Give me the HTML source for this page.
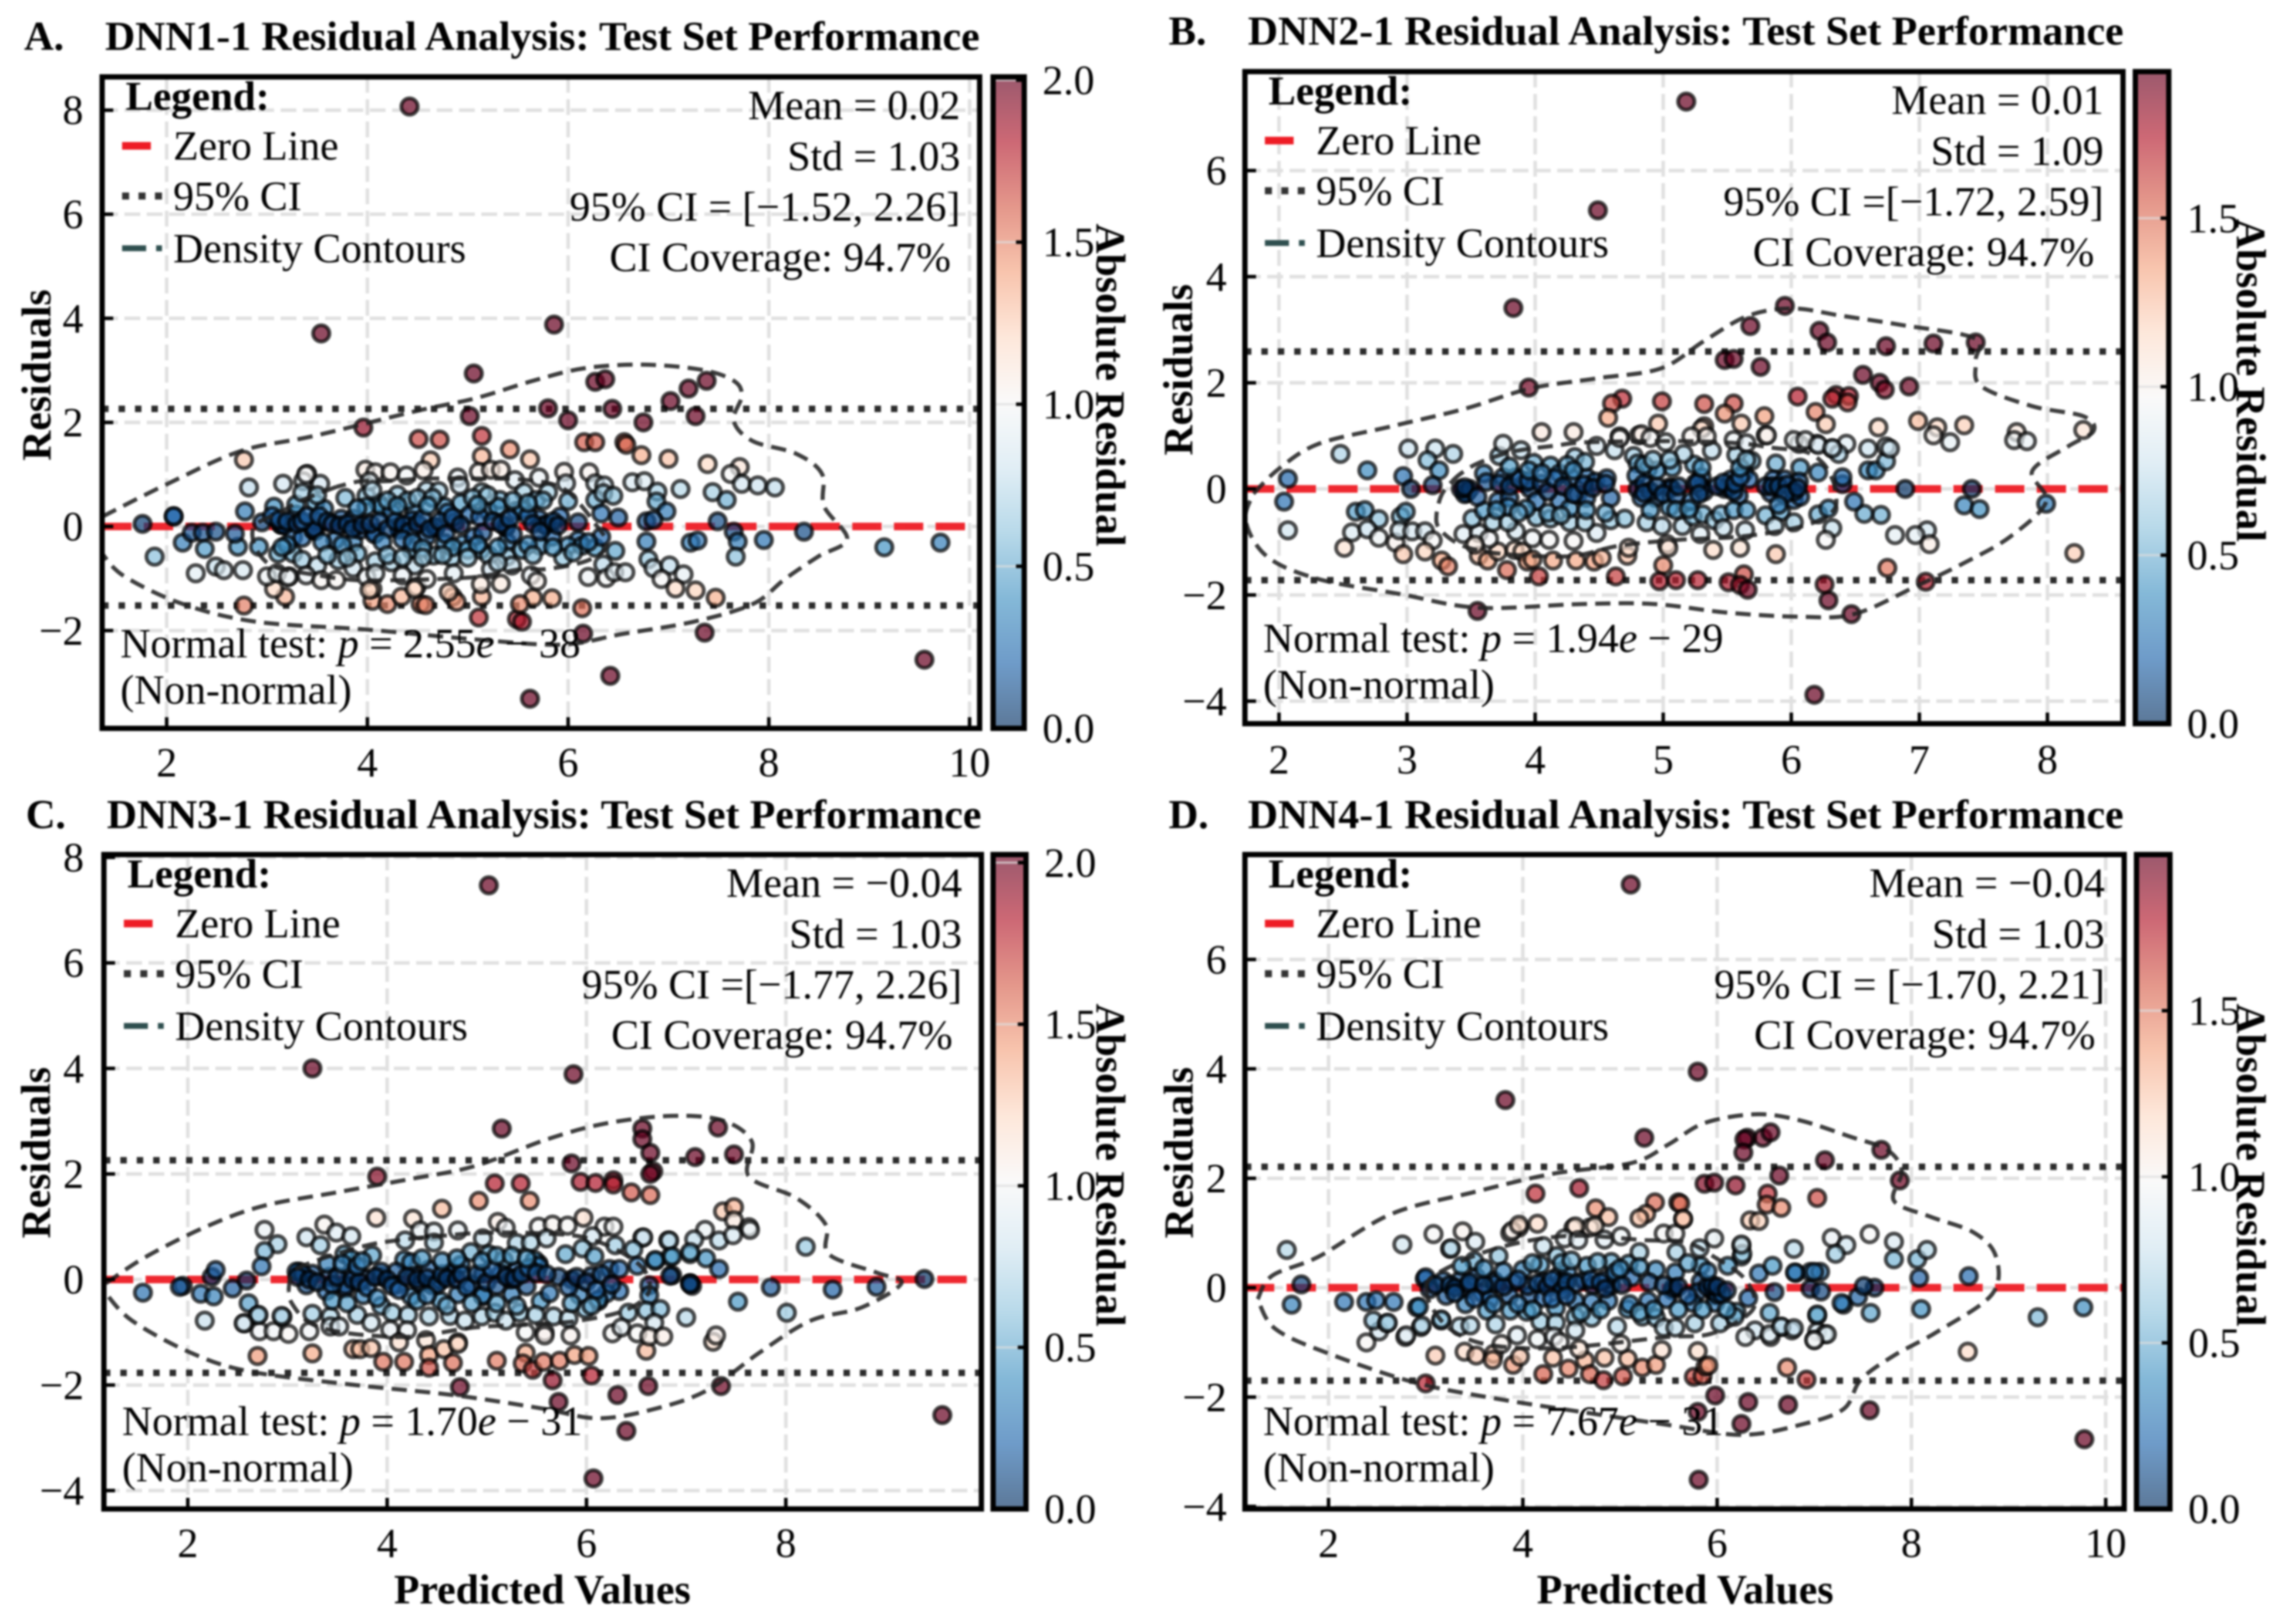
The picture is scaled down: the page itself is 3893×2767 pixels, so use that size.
<!DOCTYPE html>
<html lang="en">
<head>
<meta charset="utf-8">
<title>DNN Residual Analysis</title>
<style>
html,body{margin:0;padding:0;background:#fff;width:3893px;height:2767px;overflow:hidden}
svg{display:block;filter:blur(1.6px)}
text{font-family:"Liberation Serif",serif;fill:#000;font-size:71px}
.b{font-weight:700;font-size:70px}
.r{text-anchor:end}
.t{font-size:70px;font-weight:700}
.al{font-size:71px;font-weight:700}
.it{font-style:italic}
</style>
</head>
<body>
<svg id="chart" xmlns="http://www.w3.org/2000/svg" width="3893" height="2767" viewBox="0 0 3893 2767">
<rect width="3893" height="2767" fill="#fff"/>
<defs id="defs"></defs>
<g id="panel-marks"></g>

<g transform="translate(174,131)">
<text class="t" x="-133" y="-46">A.</text>
<text class="t" x="5" y="-46" textLength="1490" lengthAdjust="spacingAndGlyphs">DNN1-1 Residual Analysis: Test Set Performance</text>
<text class="b" x="40" y="56">Legend:</text>
<rect x="34" y="111" width="49" height="13" fill="#ee1c25"/>
<text x="121" y="141">Zero Line</text>
<line x1="34" x2="102" y1="203" y2="203" stroke="#333" stroke-width="12" stroke-dasharray="12 16"/>
<text x="121" y="227">95% CI</text>
<line x1="34" x2="102" y1="292" y2="292" stroke="#2f4f4f" stroke-width="10" stroke-dasharray="41 17"/>
<text x="121" y="316">Density Contours</text>
<text class="r" x="1462" y="72">Mean = 0.02</text>
<text class="r" x="1462" y="159">Std = 1.03</text>
<text class="r" x="1462" y="245">95% CI = [−1.52, 2.26]</text>
<text class="r" x="1446" y="331">CI Coverage: 94.7%</text>
<text x="31" y="989">Normal test: <tspan class="it">p</tspan> = 2.55<tspan class="it">e</tspan> − 38</text>
<text x="31" y="1068">(Non-normal)</text>
</g>
<text class="al" transform="translate(86,639) rotate(-90)" text-anchor="middle">Residuals</text>
<text class="al" transform="translate(1868,656) rotate(90)" text-anchor="middle">Absolute Residual</text>

<g transform="translate(2121,122)">
<text class="t" x="-130" y="-46">B.</text>
<text class="t" x="5" y="-46" textLength="1492" lengthAdjust="spacingAndGlyphs">DNN2-1 Residual Analysis: Test Set Performance</text>
<text class="b" x="40" y="56">Legend:</text>
<rect x="34" y="111" width="49" height="13" fill="#ee1c25"/>
<text x="121" y="141">Zero Line</text>
<line x1="34" x2="102" y1="203" y2="203" stroke="#333" stroke-width="12" stroke-dasharray="12 16"/>
<text x="121" y="227">95% CI</text>
<line x1="34" x2="102" y1="292" y2="292" stroke="#2f4f4f" stroke-width="10" stroke-dasharray="41 17"/>
<text x="121" y="316">Density Contours</text>
<text class="r" x="1463" y="72">Mean = 0.01</text>
<text class="r" x="1463" y="159">Std = 1.09</text>
<text class="r" x="1463" y="245">95% CI =[−1.72, 2.59]</text>
<text class="r" x="1447" y="331">CI Coverage: 94.7%</text>
<text x="31" y="989">Normal test: <tspan class="it">p</tspan> = 1.94<tspan class="it">e</tspan> − 29</text>
<text x="31" y="1068">(Non-normal)</text>
</g>
<text class="al" transform="translate(2031,630) rotate(-90)" text-anchor="middle">Residuals</text>
<text class="al" transform="translate(3811,648) rotate(90)" text-anchor="middle">Absolute Residual</text>

<g transform="translate(177,1456)">
<text class="t" x="-133" y="-45">C.</text>
<text class="t" x="5" y="-45" textLength="1490" lengthAdjust="spacingAndGlyphs">DNN3-1 Residual Analysis: Test Set Performance</text>
<text class="b" x="40" y="56">Legend:</text>
<rect x="34" y="111" width="49" height="13" fill="#ee1c25"/>
<text x="121" y="141">Zero Line</text>
<line x1="34" x2="102" y1="203" y2="203" stroke="#333" stroke-width="12" stroke-dasharray="12 16"/>
<text x="121" y="227">95% CI</text>
<line x1="34" x2="102" y1="292" y2="292" stroke="#2f4f4f" stroke-width="10" stroke-dasharray="41 17"/>
<text x="121" y="316">Density Contours</text>
<text class="r" x="1462" y="72">Mean = −0.04</text>
<text class="r" x="1462" y="159">Std = 1.03</text>
<text class="r" x="1462" y="245">95% CI =[−1.77, 2.26]</text>
<text class="r" x="1446" y="331">CI Coverage: 94.7%</text>
<text x="31" y="989">Normal test: <tspan class="it">p</tspan> = 1.70<tspan class="it">e</tspan> − 31</text>
<text x="31" y="1068">(Non-normal)</text>
</g>
<text class="al" transform="translate(85,1964) rotate(-90)" text-anchor="middle">Residuals</text>
<text class="al" transform="translate(1868,1985) rotate(90)" text-anchor="middle">Absolute Residual</text>
<text class="al" x="924" y="2732" text-anchor="middle">Predicted Values</text>

<g transform="translate(2121,1456)">
<text class="t" x="-130" y="-45">D.</text>
<text class="t" x="5" y="-45" textLength="1492" lengthAdjust="spacingAndGlyphs">DNN4-1 Residual Analysis: Test Set Performance</text>
<text class="b" x="40" y="56">Legend:</text>
<rect x="34" y="111" width="49" height="13" fill="#ee1c25"/>
<text x="121" y="141">Zero Line</text>
<line x1="34" x2="102" y1="203" y2="203" stroke="#333" stroke-width="12" stroke-dasharray="12 16"/>
<text x="121" y="227">95% CI</text>
<line x1="34" x2="102" y1="292" y2="292" stroke="#2f4f4f" stroke-width="10" stroke-dasharray="41 17"/>
<text x="121" y="316">Density Contours</text>
<text class="r" x="1465" y="72">Mean = −0.04</text>
<text class="r" x="1465" y="159">Std = 1.03</text>
<text class="r" x="1465" y="245">95% CI = [−1.70, 2.21]</text>
<text class="r" x="1449" y="331">CI Coverage: 94.7%</text>
<text x="31" y="989">Normal test: <tspan class="it">p</tspan> = 7.67<tspan class="it">e</tspan> − 31</text>
<text x="31" y="1068">(Non-normal)</text>
</g>
<text class="al" transform="translate(2032,1964) rotate(-90)" text-anchor="middle">Residuals</text>
<text class="al" transform="translate(3811,1985) rotate(90)" text-anchor="middle">Absolute Residual</text>
<text class="al" x="2871" y="2732" text-anchor="middle">Predicted Values</text>
</svg>
<script>
// ---------- Data: tick labels ----------
const xTicksA=[2,4,6,8,10];
const yTicksA=[-2,0,2,4,6,8];
const cbarTicksA=[0,0.5,1,1.5,2];
const xTicksB=[2,3,4,5,6,7,8];
const yTicksB=[-4,-2,0,2,4,6];
const cbarTicksB=[0,0.5,1,1.5];
const xTicksC=[2,4,6,8];
const yTicksC=[-4,-2,0,2,4,6,8];
const cbarTicksC=[0,0.5,1,1.5,2];
const xTicksD=[2,4,6,8,10];
const yTicksD=[-4,-2,0,2,4,6];
const cbarTicksD=[0,0.5,1,1.5];
// ---------- Data: 95% CI bounds ----------
const ciA=[-1.52,2.26];
const ciB=[-1.72,2.59];
const ciC=[-1.77,2.26];
const ciD=[-1.70,2.21];
// ---------- Data: residual points [predicted, residual] ----------
const residualsA=[[4.42,8.07],[3.54,3.71],[5.86,3.88],[5.06,2.94],[6.27,2.78],[6.37,2.83],[7.2,2.65],[7.38,2.8],[7.02,2.41],[5.8,2.27],[6.44,2.26],[5.02,2.12],[6,2.04],[6.75,2],[7.27,2.12],[3.96,1.9],[4.51,1.68],[4.72,1.67],[5.14,1.74],[6.16,1.62],[6.27,1.62],[6.56,1.62],[6.58,1.57],[5.42,1.48],[4.63,1.27],[5.14,1.35],[5.62,1.29],[6.73,1.37],[7,1.3],[7.39,1.2],[2.77,1.28],[7.71,1.14],[7.62,1.01],[7.73,.82],[7.89,.79],[8.06,.75],[7.44,.66],[7.58,.51],[7.12,.72],[6.64,.85],[6.76,.87],[6.89,.67],[6.88,.48],[6.98,.29],[6.78,.1],[6.85,.13],[7.49,.1],[7.65,-.1],[7.69,-.29],[7.67,-.58],[7.95,-.26],[8.35,-.1],[9.15,-.4],[9.71,-.31],[7.22,-.31],[7.29,-.27],[6.78,-.29],[6.8,-.63],[6.85,-.8],[7.01,-.75],[7.15,-.92],[6.93,-1.01],[7.07,-1.19],[7.27,-1.23],[7.47,-1.37],[7.36,-2.04],[9.55,-2.56],[6.42,-2.87],[5.62,-3.31],[6.15,-2.06],[6.14,-1.57],[5.49,-1.78],[5.54,-1.83],[5.11,-1.75],[5.84,-1.38],[5.65,-1.37],[5.52,-1.49],[5.14,-1.35],[5.13,-1.11],[4.85,-1.35],[4.89,-1.45],[2.77,-1.52],[3.18,-1.35],[3.07,-1.2],[4.05,-1.43],[4.2,-1.49],[4.34,-1.35],[4.53,-1.49],[4.58,-1.51],[4.05,-1.2],[4.49,-1.16],[1.76,.05],[2.07,.19],[2.07,.2],[1.88,-.58],[2.16,-.31],[2.25,-.12],[2.36,-.12],[2.49,-.1],[2.38,-.43],[2.29,-.9],[2.49,-.77],[2.57,-.84],[2.76,-.84],[2.71,-.39],[2.68,-.14],[2.78,.29],[2.82,.75],[3.16,.82],[3.4,1.01],[3.36,.87],[3.53,.82],[2.92,-.39],[3,-.96],[3.22,-.96],[3.39,1],[3.98,1.09],[4.08,1.04],[4.23,1.04],[4.39,.98],[4.56,1.08],[4.9,.94],[5.11,1.05],[5.23,1.09],[5.33,1.09],[5.47,.89],[5.71,.94],[5.96,1.05],[5.98,.83],[6.21,1.04],[6.27,.83],[6.36,.79],[3.78,.55],[3.99,.59],[4.02,.87],[4.3,.61],[4.11,.45],[4.59,.7],[4.71,.68],[4.93,.45],[4.92,.79],[5.14,.66],[5.32,.51],[5.56,.66],[5.68,.51],[5.8,.66],[6,.49],[6.27,.51],[6.35,.64],[6.45,.59],[6.33,.25],[6.5,.17],[6.1,.08],[2.95,.08],[3.07,.38],[3.14,.04],[3.29,.23],[3.29,.42],[3.48,.45],[3.57,.34],[3.48,.12],[3.26,-.2],[3.35,-.22],[3.48,-.09],[3.74,.15],[3.86,.15],[3.68,-.26],[3.86,-.3],[3.93,-.07],[4.08,-.13],[4.14,.38],[3.99,.38],[4.32,-.07],[4.47,.3],[4.44,.12],[4.24,.27],[4.68,-.02],[4.59,-.2],[4.77,-.32],[4.77,.38],[4.8,.27],[4.87,.08],[4.95,-.33],[5.02,.23],[5.2,.3],[5.3,.38],[5.38,-.02],[5.39,-.3],[5.48,.3],[5.54,.32],[5.71,.15],[5.78,.02],[5.92,.19],[5.84,-.2],[5.72,-.37],[6.1,-.26],[6,-.37],[6.14,-.37],[6.27,-.41],[6.33,-.2],[6.47,-.47],[6.35,-.73],[5.95,-.6],[6.2,-.97],[6.38,-.99],[6.46,-.88],[6.57,-.88],[3.11,-.52],[3.26,-.52],[3.35,-.64],[3.5,-.75],[3.71,-.65],[3.9,-.52],[4.44,-.45],[4.24,-.69],[4.08,-.67],[4.47,-.75],[4.66,-.56],[4.84,-.6],[5.13,-.45],[5.21,-.56],[5.39,-.58],[5.54,-.45],[5.23,-.82],[5.44,-.75],[3.86,-.8],[3.1,-.9],[3.21,-.97],[3.39,-.94],[3.54,-1.03],[3.69,-1.03],[3.99,-.97],[4.08,-.9],[4.35,-.94],[4.59,-1.01],[4.86,-.9],[5.33,-1.1],[5.63,-.94],[5.69,-1.05],[4.02,-1.22],[4.47,-1.2],[4.81,-1.26],[3.14,.03],[3.17,.02],[3.46,-.07],[3.47,-.04],[4.07,-.15],[4.32,-.04],[4.68,-.01],[5.38,0],[5.77,.03],[3.05,.2],[3.12,.13],[3.2,.1],[3.3,.05],[3.35,.1],[3.4,.2],[3.52,.2],[3.6,.1],[3.65,.05],[3.72,.02],[3.8,.05],[3.85,-.05],[3.95,.03],[4.03,.05],[4.12,.1],[4.2,-.05],[4.28,.1],[4.36,.03],[4.42,-.1],[4.5,.05],[4.55,.15],[4.62,-.05],[4.72,.1],[4.78,-.15],[4.85,.18],[4.93,.03],[5.06,-.2],[5.12,.18],[5.15,-.12],[5.25,.1],[5.33,.05],[5.42,.15],[5.45,-.15],[5.6,.2],[5.65,.05],[5.72,-.1],[5.85,.1],[5.9,.02],[3.2,-.35],[3.15,-.4],[3.55,-.3],[3.75,-.35],[4.15,-.3],[4.35,-.25],[4.45,-.3],[4.55,-.42],[4.85,-.4],[5,-.45],[5.1,-.35],[5.3,-.4],[5.6,-.35],[5.85,-.4],[6.05,-.5],[6.2,-.3],[3.35,.65],[3.5,.6],[4.05,.7],[4.2,.5],[4.4,.5],[4.5,.55],[4.65,.55],[5.05,.55],[5.2,.6],[5.45,.5],[5.75,.5],[3.9,.35],[4.3,.4],[4.6,.4],[5.1,.42],[5.6,.45],[4.2,-.55],[4.35,-.6],[4.55,-.6],[4.75,-.55],[5,-.6],[5.3,-.7],[5.65,-.55],[3.6,-.55],[3.8,-.6]];
const residualsB=[[5.18,7.3],[4.49,5.25],[3.83,3.41],[5.95,3.45],[5.68,3.07],[6.22,2.98],[6.28,2.76],[6.74,2.69],[7.11,2.74],[7.44,2.76],[5.48,2.43],[5.55,2.45],[5.76,2.3],[6.56,2.15],[6.69,2],[6.73,1.87],[6.92,1.93],[3.95,1.91],[6.05,1.74],[6.35,1.77],[6.32,1.7],[6.45,1.75],[6.44,1.63],[4.68,1.7],[4.6,1.61],[4.99,1.65],[5.32,1.6],[5.55,1.61],[4.57,1.34],[5.48,1.42],[5.79,1.37],[6.19,1.45],[4.96,1.23],[5.32,1.18],[5.61,1.23],[6.27,1.22],[6.68,1.16],[6.99,1.28],[7.14,1.16],[7.35,1.2],[7.76,1.07],[7.11,1.01],[7.24,.88],[7.74,.92],[7.84,.9],[8.28,1.11],[4.05,1.07],[4.3,1.07],[5.3,1.13],[5.8,1.01],[4.66,.99],[4.81,1.01],[2.48,.66],[3.01,.76],[2.69,.35],[2.07,.19],[2.04,-.24],[2.07,-.78],[3.22,.76],[3.16,.54],[3.36,.66],[3.25,.35],[2.97,.24],[3.03,0],[3.2,.07],[2.6,-.43],[2.67,-.4],[2.78,-.57],[2.95,-.52],[2.99,-.43],[2.57,-.82],[2.69,-.76],[2.78,-.92],[2.51,-1.11],[2.91,-1.01],[2.97,-1.23],[2.94,-.78],[3.04,-.8],[3.14,-.8],[3.2,-.97],[3.14,-1.18],[3.27,-1.35],[3.32,-1.46],[3.55,-2.3],[6.18,-3.88],[6.47,-2.36],[6.29,-2.1],[6.26,-1.8],[7.05,-1.75],[6.75,-1.49],[8.21,-1.21],[5.88,-1.23],[7.99,-.28],[7.35,-.31],[7.47,-.38],[7.41,0],[6.89,0],[7.06,-.78],[6.97,-.87],[6.81,-.87],[7.08,-1.04],[6.7,-.49],[6.57,-.47],[6.49,-.24],[6.4,.09],[6.6,.35],[6.66,.35],[6.74,.52],[6.74,.8],[6.77,.76],[6.6,.76],[6.43,.85],[6.32,.76],[6.37,.66],[6.2,.85],[6.06,.85],[4.03,-1.65],[3.78,-1.53],[4.63,-1.65],[5,-1.44],[4.97,-1.74],[5.1,-1.72],[5.27,-1.72],[5.51,-1.76],[5.63,-1.61],[5.6,-1.81],[5.66,-1.9],[4.14,-1.35],[4.32,-1.35],[4.46,-1.37],[4.52,-1.3],[4.72,-1.26],[4.73,-1.11],[5.39,-1.15],[5.6,-1.11],[5.03,-1.04],[5.04,-1.11],[3.56,-1.26],[3.63,-1.35],[3.71,-1.18],[3.84,-1.15],[3.9,-1.18],[3.94,-1.37],[3.98,-1.33],[3.44,-.85],[3.56,-.83],[3.64,-.94],[3.53,-1.05],[3.98,-.93],[4.11,-.96],[4.3,-.98],[3.85,-.8],[4.48,-.83],[3.51,-.56],[3.6,-.41],[3.67,-.63],[3.79,-.63],[4.01,-.54],[4.12,-.56],[4.27,-.63],[4.39,-.63],[4.59,-.59],[4.7,-.56],[4.87,-.63],[4.99,-.7],[5.15,-.7],[5.23,-.52],[5.31,-.48],[5.4,-.59],[5.45,-.48],[5.8,-.5],[5.92,-.43],[6.02,-.63],[6.21,-.48],[6.29,-.37],[6.32,-.74],[6.27,-.96],[5.29,-.85],[5.47,-.74],[5.64,-.78],[5.87,-.7],[3.46,-.08],[3.47,-.06],[3.45,-.1],[3.42,0],[3.49,0],[3.45,.03],[3.6,.29],[3.62,.13],[3.75,.22],[3.85,.22],[3.92,.11],[3.96,0],[3.71,-.23],[3.8,-.17],[3.79,-.34],[4.01,-.23],[3.93,-.37],[4.19,-.23],[4.27,-.37],[4.33,-.11],[4.4,-.17],[4.28,.22],[4.4,.22],[4.47,.14],[4.56,.2],[4.59,-.17],[3.99,.49],[4.12,.44],[4.19,.29],[4.31,.6],[4.39,.51],[3.72,.62],[3.89,.73],[3.75,.85],[4.48,.81],[4.62,.73],[4.77,.62],[4.8,.48],[4.88,.37],[5.07,.4],[5.24,.46],[5.16,.66],[5.38,.72],[5.57,.64],[5.69,.53],[5.88,.48],[6.07,.4],[6.21,.31],[6.4,.22],[4.79,.25],[4.8,0],[4.83,-.17],[4.94,-.17],[5.05,.03],[5.06,.01],[5.05,-.35],[5.22,-.23],[5.3,.22],[5.3,.03],[5.48,0],[5.53,.18],[5.63,.31],[5.59,-.13],[5.51,.03],[5.67,.18],[5.86,.18],[5.95,.18],[6.06,.14],[5.84,-.08],[5.93,-.08],[6.02,-.21],[6.07,-.15],[4.66,.96],[4.83,1.03],[4.9,.96],[5.02,.88],[5.22,.99],[5.34,.99],[5.55,.92],[5.65,.86],[5.81,1.01],[6.02,.92],[6.11,.92],[6.21,.83],[6.32,.77],[3.72,.1],[3.8,.05],[3.88,.18],[3.95,.15],[4.05,.1],[4.1,-.05],[4.15,.2],[4.22,.05],[4.3,-.1],[4.38,.08],[4.45,.02],[4.55,.1],[4.85,.1],[4.9,-.05],[4.85,-.08],[4.95,.05],[5,-.1],[5.1,-.12],[5.12,.05],[5.25,.1],[5.32,-.05],[5.27,.12],[5.28,-.1],[5.42,.05],[5.47,.12],[5.55,-.05],[5.56,.1],[5.6,.22],[5.8,.05],[5.85,.05],[5.9,.05],[5.97,.08],[6.02,-.05],[5.95,-.1],[6.05,.02],[3.55,-.15],[3.7,-.4],[3.87,-.45],[4.1,-.45],[4.2,-.5],[4.4,-.4],[4.55,-.45],[4.9,-.4],[5.1,-.4],[5.2,-.38],[5.55,-.4],[5.65,-.4],[5.9,-.3],[4.95,.35],[4.85,.45],[4.92,.55],[5.6,.4],[5.65,.55],[5.05,.55],[5.3,.4],[4.25,.45],[4.3,.35],[3.95,.35],[4.05,.3],[3.8,.42]];
const residualsC=[[5.02,7.47],[3.25,4],[5.87,3.89],[5.15,2.86],[6.56,2.86],[6.56,2.66],[6.64,2.4],[6.67,2.05],[6.64,2],[7.32,2.88],[7.48,2.37],[7.09,2.32],[5.85,2.2],[3.9,1.95],[5.08,1.82],[5.34,1.82],[5.94,1.85],[6.09,1.83],[6.27,1.88],[6.27,1.8],[6.45,1.65],[6.64,1.6],[4.92,1.49],[5.43,1.49],[4.55,1.34],[3.89,1.17],[7.37,1.29],[7.48,1.37],[7.48,1.12],[7.63,.99],[7.64,.94],[7.33,.74],[7.47,.84],[7.19,.94],[7.08,.76],[6.82,.74],[6.56,.79],[8.2,.62],[7.04,.48],[7.2,.4],[7.33,.2],[6.84,.43],[6.69,.35],[6.86,.08],[7.04,-.07],[7.06,-.12],[7.52,-.42],[8.01,-.63],[7.85,-.15],[8.47,-.19],[8.91,-.14],[9.39,.01],[1.55,-.25],[9.57,-2.57],[6.07,-3.77],[6.4,-2.87],[6.31,-2.19],[6.62,-2.02],[7.35,-2.02],[4.73,-2.04],[5.72,-2.32],[5.66,-1.91],[6.05,-1.82],[2.7,-1.45],[3.25,-1.4],[6.6,-1.35],[7.27,-1.18],[7.3,-1.06],[2.17,-.78],[1.95,-.12],[1.92,-.14],[2.13,-.27],[2.26,-.32],[2.24,.05],[2.28,.18],[2.45,-.17],[2.59,-.02],[2.61,-.45],[2.57,-.83],[2.7,-.68],[2.72,-.98],[2.86,-.98],[2.95,-.71],[3.01,-1.03],[2.77,.94],[2.9,.67],[2.77,.54],[2.74,.25],[3.19,.8],[3.37,1.04],[3.49,.89],[3.64,.82],[3.33,.65],[3.57,.48],[3.64,.39],[3.85,.46],[4.18,.74],[4.26,1.15],[4.33,.93],[4.47,.91],[4.47,.7],[4.71,.93],[5.11,1.09],[5.19,.98],[5.52,1],[5.66,1.04],[5.81,1.02],[5.97,1.17],[6.18,1],[6.27,1],[4.96,.78],[5.3,.69],[5.44,.7],[5.6,.78],[6.06,.82],[6.29,.65],[6.57,.8],[6.83,.74],[3.12,.15],[3.25,.11],[3.19,-.11],[3.39,-.22],[3.58,-.17],[3.63,.11],[3.76,-.3],[3.94,.06],[3.94,-.5],[4.17,.37],[4.24,.33],[4.09,.15],[4.24,-.32],[4.33,-.07],[4.45,-.11],[4.42,.19],[4.54,-.41],[4.65,.11],[4.84,-.09],[4.84,.52],[5.02,.48],[5.17,.37],[4.96,.11],[5.14,.11],[5.3,.17],[5.52,.3],[5.48,.37],[4.96,-.32],[4.71,-.28],[5.25,-.28],[5.4,-.13],[5.54,-.41],[5.63,-.26],[5.79,.48],[5.96,.59],[6.08,.44],[6.23,.2],[6.33,.2],[6.05,.07],[5.85,0],[5.93,-.3],[6.12,-.41],[5.99,-.56],[6.33,-.22],[6.2,-.26],[6.47,.57],[6.51,.26],[6.63,-.11],[6.63,-.3],[6.69,.37],[6.86,.44],[7.04,.52],[6.84,.07],[7.04,-.07],[2.71,-.67],[2.94,-.69],[3.25,-.65],[3.43,-.7],[3.7,-.67],[3.84,-.82],[4.05,-.63],[4.21,-.67],[4.42,-.7],[4.63,-.69],[4.78,-.78],[4.95,-.7],[5.08,-.63],[5.19,-.78],[5.33,-.63],[5.49,-.67],[5.67,-.7],[5.82,-.74],[6.42,-.63],[6.6,-.59],[6.74,-.56],[7,-.72],[6.68,-.82],[2.56,-.83],[3.22,-.98],[3.43,-.89],[3.52,-.89],[4.03,-.95],[4.2,-.96],[5.39,-1],[5.58,-1],[5.58,-1.06],[5.84,-1.06],[6.26,-1.02],[6.35,-.91],[6.51,-1.02],[6.63,-1.08],[6.77,-1.08],[4.12,-1.19],[4.39,-1.15],[4.71,-1.19],[3.66,-1.32],[3.73,-1.32],[3.84,-1.3],[3.96,-1.56],[4.17,-1.56],[4.42,-1.43],[4.57,-1.32],[4.42,-1.67],[4.66,-1.58],[4.71,-1.22],[5.1,-1.54],[5.39,-1.39],[5.36,-1.59],[5.46,-1.71],[5.57,-1.56],[5.73,-1.54],[5.88,-1.43],[6.02,-1.45],[3.09,.15],[3.15,.11],[3.58,-.11],[3.94,.15],[4.65,.15],[4.96,-.3],[5.52,.26],[6.12,-.38],[7.04,-.09],[3.42,.05],[3.78,.02],[4.27,.07],[4.53,-.02],[4.74,.28],[5.24,0],[5.72,.05],[5.82,-.15],[3.4,.3],[4.1,-.1],[3.1,.05],[3.22,0],[3.3,-.05],[3.45,-.1],[3.5,.05],[3.65,0],[3.72,-.05],[3.8,-.15],[3.88,.05],[4,0],[4.05,-.12],[4.12,-.2],[4.2,.05],[4.3,0],[4.4,.03],[4.5,-.1],[4.55,.1],[4.6,.02],[4.7,0],[4.75,.1],[4.8,-.15],[4.9,.1],[5,-.05],[5.05,.2],[5.1,-.12],[5.2,.05],[5.28,.02],[5.35,.1],[5.42,.22],[5.5,.12],[5.6,.1],[5.9,.05],[6,-.05],[6.1,-.2],[6.15,.1],[6.25,-.1],[3.45,-.4],[3.6,-.45],[3.9,-.35],[4.3,-.4],[4.4,-.3],[4.6,-.5],[4.85,-.45],[5.1,-.45],[5.3,-.5],[5.85,-.45],[6.05,-.5],[3.55,.3],[3.7,.25],[4.35,.4],[4.55,.35],[4.7,.4],[4.95,.35],[5.1,.45],[5.25,.45],[5.4,.4],[3.75,.35]];
const residualsD=[[5.11,7.37],[5.8,3.95],[3.82,3.43],[5.25,2.74],[6.31,2.74],[6.28,2.71],[6.47,2.74],[6.55,2.84],[6.27,2.47],[7.69,2.52],[7.11,2.33],[6.64,2.05],[7.88,1.96],[5.87,1.9],[5.97,1.92],[6.19,1.87],[4.13,1.72],[4.58,1.82],[7.03,1.64],[6.52,1.72],[6.51,1.52],[6.66,1.46],[5.6,1.56],[5.62,1.54],[5.36,1.56],[4.75,1.45],[4.88,1.29],[5.27,1.35],[5.2,1.27],[5.65,1.25],[6.34,1.23],[6.43,1.22],[4.15,1.17],[3.96,1.1],[3.87,1],[4.52,1.09],[4.69,1.1],[3.08,.98],[3.38,1.03],[3.51,.84],[3.25,.71],[2.76,.79],[1.57,.69],[1.72,.06],[1.62,-.31],[2.16,-.26],[2.39,-.26],[2.49,-.23],[2.67,-.26],[2.91,-.36],[2.99,.16],[2.39,-1],[2.52,-.8],[2.46,-.6],[2.6,-.65],[2.79,-.9],[2.95,-.72],[3.16,-.6],[3.1,-1.24],[3,-1.75],[7.18,.91],[7.33,.78],[7.22,.62],[7.57,.98],[7.82,.84],[7.82,.52],[8.06,.52],[8.16,.69],[6.79,.71],[6.25,.76],[6.25,.57],[8.59,.21],[8.08,.18],[8.1,-.39],[9.3,-.54],[9.77,-.36],[9.78,-2.77],[8.58,-1.17],[7.57,-2.24],[5.81,-3.51],[6.25,-2.49],[5.8,-2.27],[6.32,-2.09],[6.73,-2.14],[5.98,-1.97],[6.92,-1.68],[6.72,-1.46],[5.76,-1.63],[5.85,-1.61],[5.88,-1.44],[5.8,-1.16],[7.58,-.46],[7.3,-.31],[7.45,-.17],[7.62,0],[7.51,.03],[7.03,-.51],[7.03,-.8],[7.11,-.85],[7,-.95],[6.77,-.78],[6.66,-.72],[6.55,-.9],[6.81,.27],[6.96,.29],[7.06,.29],[6.96,-.02],[7.07,-.07],[3.26,.72],[3,.19],[3.04,-.03],[3.18,.13],[3.35,.13],[3.41,-.03],[3.52,.19],[3.7,.13],[3.9,.1],[3.5,.49],[3.75,.58],[3.37,.4],[3.58,-.1],[3.66,-.21],[3.21,-.15],[3.41,-.3],[3.86,-.15],[4.07,-.14],[4.21,-.19],[4,.33],[4.18,.42],[4.37,.22],[4.35,.58],[4.21,.11],[4.63,.13],[4.46,.29],[4.66,.4],[4.72,.04],[4.91,.04],[4.91,.47],[4.77,.47],[5.09,.44],[5.12,.19],[5.37,.33],[5.57,.28],[5.54,-.05],[5.83,.4],[5.83,.11],[5.8,-.08],[5.98,-.14],[5.75,-.28],[5.98,-.28],[6.32,-.19],[6.43,.26],[6.57,.4],[6.59,-.08],[6.8,.28],[5.29,-.24],[5.48,-.21],[4.88,-.24],[4.71,-.26],[4.54,-.24],[4.34,-.37],[3.87,-.42],[3.63,-.42],[4.04,-.44],[7,.29],[7.28,-.28],[6.2,-.44],[6.54,-.46],[6.11,.4],[6.26,.62],[5.08,-.39],[4.54,-.53],[4.71,-.55],[4.54,-.78],[4.18,-.62],[4.34,-.64],[3.72,-.67],[3.35,-.71],[3.46,-.69],[3.16,-.58],[2.93,-.35],[2.96,-.69],[2.8,-.87],[2.61,-.64],[5.77,-.65],[5.23,-.53],[5.37,-.55],[5.45,-.73],[5.57,-.73],[4.97,-.71],[6.03,-.65],[6.18,-.53],[6.39,-.78],[6.54,-.85],[6.66,-.71],[6.79,-.74],[7.03,-.49],[6.29,-.9],[7.13,-.85],[7,-.96],[3.94,-.87],[4.15,-.94],[4.32,-.89],[3.89,1.04],[3.96,1.15],[4.54,1.12],[4.74,1.13],[4.43,.9],[4.57,.87],[4.84,.88],[5.01,.94],[4.21,.76],[5.45,.99],[5.57,.99],[5.58,.65],[5.97,.9],[5.82,.72],[6.25,.79],[5.2,.65],[5.65,1.26],[3.4,-1.17],[3.52,-1.24],[3.7,-1.21],[3.69,-1.32],[3.9,-1.41],[3.97,-1.26],[4.31,-1.28],[4.21,-1.58],[4.47,-1.48],[4.64,-1.33],[4.69,-1.58],[4.83,-1.69],[4.84,-1.28],[5.03,-1.62],[5.08,-1.3],[5.23,-1.46],[5.37,-1.41],[5.43,-1.14],[4.58,-1.12],[5.01,-1.03],[3.78,-1.03],[4.38,-.99],[5.91,-1.42],[3.44,.05],[3.72,.08],[4.4,.1],[4.42,.04],[4.85,.15],[5.96,-.05],[6,-.12],[5.55,0],[5.3,.1],[4.05,.03],[3.1,.05],[3.25,.05],[3.3,0],[3.45,.1],[3.6,.05],[3.8,.02],[3.95,.15],[4.15,.08],[4.25,.02],[4.3,.15],[4.4,-.05],[4.45,.1],[4.55,.08],[4.7,.15],[4.8,.1],[4.85,-.02],[4.95,.28],[5.02,.05],[5.45,.05],[5.6,.02],[5.7,-.15],[5.9,.02],[5.95,.05],[6.05,-.12],[6,.02],[6.1,-.05],[3.3,-.1],[3.5,-.2],[3.7,-.3],[3.95,-.3],[4.1,-.4],[4.3,-.2],[4.45,-.15],[4.6,-.45],[4.8,-.4],[5.1,-.3],[5.2,-.45],[5.35,-.4],[5.6,-.4],[5.85,-.4],[6.1,-.4],[4.1,.45],[4.4,.45],[4.5,.5],[5,.35],[5.2,.38],[5.7,.45],[5.9,.3],[3.6,.35],[3.8,.3]];
// ---------- Data: density contours [predicted, residual] ----------
const contourOuterA=[[1.36,.19],[2.01,.82],[2.74,1.45],[3.47,1.74],[4.49,2.22],[5.07,2.46],[5.65,2.8],[6.16,3.04],[6.75,3.11],[7.33,3.01],[7.65,2.8],[7.73,2.51],[7.65,2.03],[7.84,1.64],[8.27,1.4],[8.53,1.01],[8.55,.39],[8.78,-.24],[8.49,-.58],[8.16,-1.01],[7.84,-1.49],[7.25,-1.83],[6.53,-2.07],[5.94,-2.27],[5.07,-2.17],[3.98,-1.98],[2.89,-1.83],[2.16,-1.49],[1.58,-.96],[1.36,-.53]];
const contourInnerA=[[3.69,.76],[3.33,.49],[3.13,.27],[2.89,.04],[2.86,-.26],[2.95,-.6],[3.1,-.79],[3.45,-.92],[3.87,-1.03],[4.35,-1.03],[4.95,-.99],[5.19,-.94],[5.54,-.82],[5.78,-.82],[6.14,-.69],[6.35,-.48],[6.38,-.26],[6.29,0],[6.14,.38],[5.99,.68],[5.81,.83],[5.48,.91],[5.07,.92],[4.59,.92],[4.17,.87],[3.93,.87],[3.69,.76]];
const contourOuterB=[[1.8,-.09],[2,.38],[2.31,.85],[2.88,1.18],[3.45,1.51],[3.96,1.89],[4.47,2.08],[4.98,2.27],[5.32,2.79],[5.66,3.26],[6.01,3.4],[6.4,3.26],[6.86,3.09],[7.43,2.84],[7.44,2.41],[7.48,1.94],[7.88,1.56],[8.28,1.37],[8.36,1.09],[8.16,.8],[7.88,.33],[7.99,-.24],[7.71,-.9],[7.37,-1.37],[6.97,-1.84],[6.49,-2.36],[6.06,-2.41],[5.49,-2.33],[4.93,-2.17],[4.36,-2.17],[3.56,-2.24],[2.94,-1.98],[2.31,-1.7],[1.91,-1.28],[1.74,-.61],[1.8,-.09]];
const contourInnerB=[[3.35,.14],[3.42,.29],[3.56,.49],[3.82,.7],[4.14,.81],[4.42,.88],[5.12,.9],[5.59,.86],[5.87,.77],[6.11,.7],[6.25,.48],[6.32,.18],[6.34,0],[6.34,-.37],[6.18,-.63],[5.9,-.8],[5.55,-.91],[5.12,-.96],[4.66,-1.07],[4.31,-1.26],[3.96,-1.26],[3.6,-1.18],[3.39,-1.02],[3.25,-.74],[3.23,-.48],[3.27,-.11],[3.35,.14]];
const contourOuterC=[[1.18,-.07],[1.58,.43],[2.17,.99],[2.75,1.39],[3.49,1.65],[4.22,1.9],[4.88,2.15],[5.61,2.66],[6.2,2.96],[6.86,3.1],[7.37,3.01],[7.66,2.61],[7.63,1.95],[8.1,1.55],[8.4,1.04],[8.43,.48],[8.91,.13],[9.16,-.07],[8.76,-.53],[8.25,-.78],[7.74,-1.38],[7.22,-2.09],[6.71,-2.44],[6.12,-2.63],[5.54,-2.44],[4.66,-2.19],[3.63,-1.99],[2.61,-1.74],[2.02,-1.38],[1.44,-.78],[1.18,-.27]];
const contourInnerC=[[3.01,-.22],[3.06,.15],[3.31,.37],[3.76,.63],[4.09,.74],[4.51,.82],[5.05,.89],[5.78,.85],[6.08,.74],[6.38,.48],[6.59,.15],[6.62,-.26],[6.38,-.59],[5.93,-.78],[5.48,-.85],[4.87,-.91],[4.27,-1.08],[3.82,-1.06],[3.43,-.96],[3.19,-.78],[3.04,-.44],[3.01,-.22]];
const contourOuterD=[[1.27,-.21],[1.42,.22],[1.9,.57],[2.65,1.35],[3.48,1.74],[4.3,2.08],[5.12,2.28],[5.5,2.62],[5.87,3.01],[6.4,3.17],[6.85,3.06],[7.37,2.76],[7.75,2.52],[7.9,2.13],[7.82,1.59],[8.19,1.3],[8.64,1.01],[8.87,.57],[8.83,-.12],[8.27,-.8],[7.82,-1.24],[7.48,-1.68],[7.3,-2.22],[6.85,-2.51],[6.25,-2.69],[5.5,-2.51],[4.6,-2.27],[3.7,-2.02],[2.88,-1.73],[1.98,-1.19],[1.45,-.75],[1.27,-.21]];
const contourInnerD=[[3,-.03],[3.06,.19],[3.4,.51],[3.77,.74],[4.2,.9],[4.63,.95],[5.24,.87],[5.68,.83],[5.99,.54],[6.27,.19],[6.39,-.24],[6.29,-.53],[5.92,-.85],[5.49,-.9],[4.84,-1.03],[4.38,-1.1],[3.92,-1.1],[3.52,-.99],[3.24,-.74],[3.06,-.35],[3,-.03]];
// ---------- Colormap stops (RdBu_r) ----------
const rdbu=['#053061','#2166ac','#4393c3','#92c5de','#d1e5f0','#f7f7f7','#fddbc7','#f4a582','#d6604d','#b2182b','#67001f'];

const panels=[
 {key:'a',L:174,R:1669,T:131,B:1241,xd:[1.357,10.10],yd:[-3.88,8.64],vmax:2.01,cb:[1692,1745],xlab:82,yr:142,pts:residualsA,xt:xTicksA,yt:yTicksA,ct:cbarTicksA,ci:ciA,co:contourOuterA,ci2:contourInnerA},
 {key:'b',L:2121,R:3617,T:122,B:1233,xd:[1.734,8.59],yd:[-4.425,7.865],vmax:1.935,cb:[3638,3695],xlab:85,yr:2090,pts:residualsB,xt:xTicksB,yt:yTicksB,ct:cbarTicksB,ci:ciB,co:contourOuterB,ci2:contourInnerB},
 {key:'c',L:177,R:1672,T:1456,B:2571,xd:[1.158,9.962],yd:[-4.349,8.053],vmax:2.025,cb:[1692,1748],xlab:82,yr:143,pts:residualsC,xt:xTicksC,yt:yTicksC,ct:cbarTicksC,ci:ciC,co:contourOuterC,ci2:contourInnerC},
 {key:'d',L:2121,R:3619,T:1456,B:2571,xd:[1.139,10.19],yd:[-4.045,7.918],vmax:1.97,cb:[3640,3697],xlab:82,yr:2090,pts:residualsD,xt:xTicksD,yt:yTicksD,ct:cbarTicksD,ci:ciD,co:contourOuterD,ci2:contourInnerD}
];

const NS='http://www.w3.org/2000/svg';
function mk(tag,attrs,parent){
  const el=document.createElementNS(NS,tag);
  for(const k in attrs)el.setAttribute(k,attrs[k]);
  if(parent)parent.appendChild(el);
  return el;
}
function hex(h){return [parseInt(h.slice(1,3),16),parseInt(h.slice(3,5),16),parseInt(h.slice(5,7),16)];}
function cmap(t){
  t=Math.max(0,Math.min(1,t))*(rdbu.length-1);
  const i=Math.min(Math.floor(t),rdbu.length-2),f=t-i;
  const a=hex(rdbu[i]),b=hex(rdbu[i+1]);
  return 'rgb('+a.map((v,j)=>Math.round(v+(b[j]-v)*f)).join(',')+')';
}
function spline(p){
  let d='M'+p[0][0].toFixed(1)+' '+p[0][1].toFixed(1);
  for(let i=0;i<p.length-1;i++){
    const a=p[Math.max(i-1,0)],b=p[i],c=p[i+1],e=p[Math.min(i+2,p.length-1)];
    d+=' C'+(b[0]+(c[0]-a[0])/6).toFixed(1)+' '+(b[1]+(c[1]-a[1])/6).toFixed(1)+' '+(c[0]-(e[0]-b[0])/6).toFixed(1)+' '+(c[1]-(e[1]-b[1])/6).toFixed(1)+' '+c[0].toFixed(1)+' '+c[1].toFixed(1);
  }
  return d;
}
const fmtTick=v=>(v<0?'−':'')+Math.abs(v);
const root=document.getElementById('panel-marks');
const defs=document.getElementById('defs');

panels.forEach(P=>{
  const sx=v=>P.L+(v-P.xd[0])/(P.xd[1]-P.xd[0])*(P.R-P.L);
  const sy=v=>P.B-(v-P.yd[0])/(P.yd[1]-P.yd[0])*(P.B-P.T);

  const clip=mk('clipPath',{id:'clip-'+P.key},defs);
  mk('rect',{x:P.L,y:P.T,width:P.R-P.L,height:P.B-P.T},clip);
  const grad=mk('linearGradient',{id:'grad-'+P.key,x1:0,y1:1,x2:0,y2:0},defs);
  rdbu.forEach((c,i)=>{mk('stop',{offset:i/(rdbu.length-1),'stop-color':c},grad);});

  const g=mk('g',{},root);
  
  
  const inner=mk('g',{'clip-path':'url(#clip-'+P.key+')'},g);

  P.xt.forEach(v=>{
    const el=mk('line',{x1:sx(v),x2:sx(v),y1:P.T,y2:P.B,stroke:'#e0e0e0','stroke-width':6,'stroke-dasharray':'27 11'},inner);
    
    
  });
  P.yt.forEach(v=>{
    const el=mk('line',{x1:P.L,x2:P.R,y1:sy(v),y2:sy(v),stroke:'#e0e0e0','stroke-width':6,'stroke-dasharray':'27 11'},inner);
    
    
  });

  const zero=mk('line',{x1:P.L,x2:P.R,y1:sy(0),y2:sy(0),stroke:'#ee1c25','stroke-width':13,'stroke-dasharray':'50 21','stroke-opacity':.95},inner);
  
  

  P.ci.forEach(v=>{
    const el=mk('line',{x1:P.L,x2:P.R,y1:sy(v),y2:sy(v),stroke:'#2b2b2b','stroke-width':11,'stroke-dasharray':'11 17'},inner);
    
    
  });

  P.pts.forEach(p=>{
    const el=mk('circle',{cx:sx(p[0]),cy:sy(p[1]),r:14,fill:cmap(Math.abs(p[1])/P.vmax),'fill-opacity':.7,stroke:'#000','stroke-opacity':.7,'stroke-width':6.5},inner);
    
    
  });

  [P.co,P.ci2].forEach(c=>{
    const el=mk('path',{d:spline(c.map(q=>[sx(q[0]),sy(q[1])])),fill:'none',stroke:'#222','stroke-opacity':.88,'stroke-width':7,'stroke-dasharray':'26 14'},inner);
    
    
  });

  const frame=mk('rect',{x:P.L,y:P.T,width:P.R-P.L,height:P.B-P.T,fill:'none',stroke:'#000','stroke-width':9},g);
  
  

  P.xt.forEach(v=>{
    mk('line',{x1:sx(v),x2:sx(v),y1:P.B,y2:P.B-19,stroke:'#000','stroke-width':6},g);
    const t=mk('text',{x:sx(v),y:P.B+P.xlab,'text-anchor':'middle'},g);
    t.textContent=fmtTick(v);
    
    
  });
  P.yt.forEach(v=>{
    mk('line',{x1:P.L,x2:P.L+19,y1:sy(v),y2:sy(v),stroke:'#000','stroke-width':6},g);
    const t=mk('text',{x:P.yr,y:sy(v)+24,'text-anchor':'end'},g);
    t.textContent=fmtTick(v);
    
    
  });

  // colorbar
  const cbH=P.B-P.T,cbW=P.cb[1]-P.cb[0];
  const bar=mk('rect',{x:P.cb[0],y:P.T,width:cbW,height:cbH,fill:'url(#grad-'+P.key+')','fill-opacity':.65},g);
  
  
  P.ct.forEach(v=>{
    const y=P.B-v/P.vmax*cbH;
    mk('line',{x1:P.cb[0],x2:P.cb[1],y1:y,y2:y,stroke:'#ddd','stroke-width':4,'stroke-opacity':.7},g);
    mk('line',{x1:P.cb[1]-14,x2:P.cb[1],y1:y,y2:y,stroke:'#000','stroke-width':6},g);
    const t=mk('text',{x:P.cb[1]+31,y:y+24},g);
    t.textContent=v.toFixed(1);
    
    
  });
  const cf=mk('rect',{x:P.cb[0],y:P.T,width:cbW,height:cbH,fill:'none',stroke:'#000','stroke-width':9},g);
  
  
});
</script>
</body>
</html>
